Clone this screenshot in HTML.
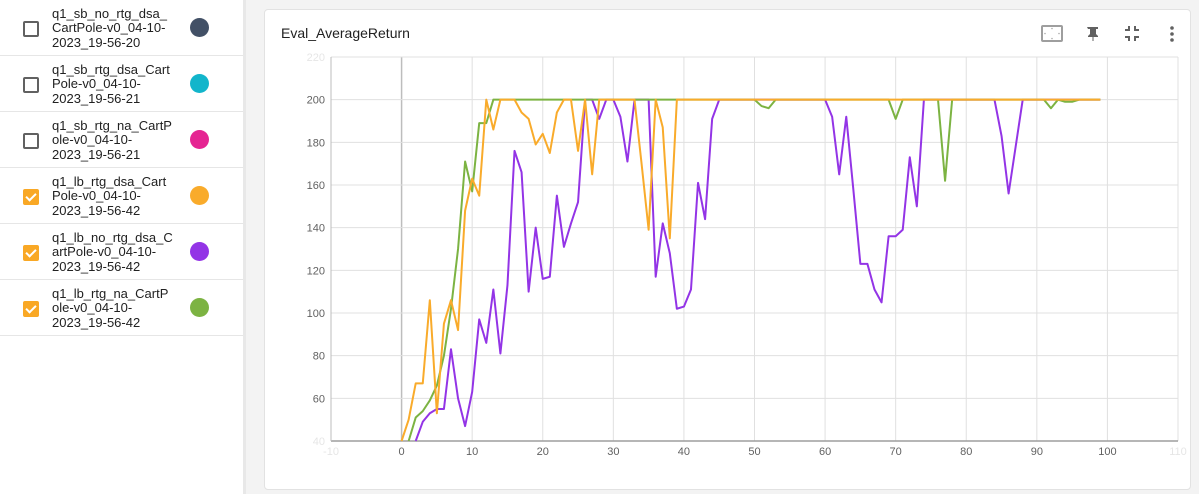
<!DOCTYPE html>
<html><head><meta charset="utf-8"><style>
body{margin:0;width:1199px;height:494px;background:#f3f3f3;font-family:"Liberation Sans",sans-serif;position:relative;overflow:hidden}
#side{position:absolute;left:0;top:0;width:243px;height:494px;background:#fff;border-right:3px solid #e8e8e8}
.row{position:absolute;left:0;width:243px;height:55px;border-bottom:1px solid #e6e6e6}
.cb{position:absolute;left:23px;top:21px;width:12px;height:12px;border:2px solid #616161;border-radius:2px}
.cb.on{background:#f9a825;border-color:#f9a825}
.cb.on::after{content:"";position:absolute;left:3px;top:0px;width:4px;height:8px;border:solid #fff;border-width:0 2px 2px 0;transform:rotate(45deg)}
.lbl{position:absolute;left:52px;top:7px;font-size:13px;line-height:14.3px;color:#212121;width:130px}
.dot{position:absolute;left:190px;top:18px;width:19px;height:19px;border-radius:50%}
#card{position:absolute;left:264px;top:9px;width:925px;height:479px;background:#fff;border:1px solid #e2e2e2;border-radius:4px}
#title{position:absolute;left:281px;top:25px;font-size:14px;color:#212121}
</style></head><body>
<div id="side">
 <div class="row" style="top:0"><div class="cb"></div><div class="lbl">q1_sb_no_rtg_dsa_<br>CartPole-v0_04-10-<br>2023_19-56-20</div><div class="dot" style="background:#425066"></div></div>
 <div class="row" style="top:56px"><div class="cb"></div><div class="lbl">q1_sb_rtg_dsa_Cart<br>Pole-v0_04-10-<br>2023_19-56-21</div><div class="dot" style="background:#12b5cb"></div></div>
 <div class="row" style="top:112px"><div class="cb"></div><div class="lbl">q1_sb_rtg_na_CartP<br>ole-v0_04-10-<br>2023_19-56-21</div><div class="dot" style="background:#e52592"></div></div>
 <div class="row" style="top:168px"><div class="cb on"></div><div class="lbl">q1_lb_rtg_dsa_Cart<br>Pole-v0_04-10-<br>2023_19-56-42</div><div class="dot" style="background:#f9ab2b"></div></div>
 <div class="row" style="top:224px"><div class="cb on"></div><div class="lbl">q1_lb_no_rtg_dsa_C<br>artPole-v0_04-10-<br>2023_19-56-42</div><div class="dot" style="background:#9334e6"></div></div>
 <div class="row" style="top:280px"><div class="cb on"></div><div class="lbl">q1_lb_rtg_na_CartP<br>ole-v0_04-10-<br>2023_19-56-42</div><div class="dot" style="background:#7cb342"></div></div>
</div>
<div id="card"></div>
<div id="title">Eval_AverageReturn</div>
<svg width="1199" height="494" style="position:absolute;left:0;top:0" id="svg">
 <g><rect x="1042" y="26" width="20" height="15" fill="none" stroke="#9e9e9e" stroke-width="2" rx="1"/><circle cx="1052" cy="28.5" r="0.8" fill="#aaa"/><circle cx="1052" cy="38.5" r="0.8" fill="#aaa"/><circle cx="1045" cy="33.5" r="0.8" fill="#aaa"/><circle cx="1059" cy="33.5" r="0.8" fill="#aaa"/></g>
 <g fill="#616161"><path d="M1087 27h11v2h-2v5l2 2v1h-4.5v4h-1v-4H1088v-1l2-2v-5h-2z"/></g>
 <g fill="none" stroke="#616161" stroke-width="2"><path d="M1125 30h4v-4M1135 26v4h4M1125 37h4v4M1139 37h-4v4"/></g>
 <g fill="#616161"><circle cx="1172" cy="28" r="1.8"/><circle cx="1172" cy="34" r="1.8"/><circle cx="1172" cy="40" r="1.8"/></g>
 <g id="chart"></g>
</svg>
<script>
const xTicks=[-10,0,10,20,30,40,50,60,70,80,90,100,110];
const yTicks=[40,60,80,100,120,140,160,180,200,220];
const orangeX=[0,1,2,3,4,5,6,7,8,9,10,11,12,13,14,15,16,17,18,19,20,21,22,23,24,25,26,27,28,29,30,31,32,33,34,35,36,37,38,39,99];
const orangeY=[40,50,67,67,106,53,95,106,92,148,163,155,200,186,200,200,200,194,191,179,184,175,194,200,200,176,200,165,200,200,200,200,200,200,170,139,200,187,135,200,200];
const greenX=[1,2,3,4,5,6,7,8,9,10,11,12,13,50,51,52,53,69,70,71,76,77,78,91,92,93,94,95,96,99];
const greenY=[40,51,54,59,66,80,102,130,171,157,189,189,200,200,197,196,200,200,191,200,200,162,200,200,196,200,199,199,200,200];
const purpleX=[2,3,4,5,6,7,8,9,10,11,12,13,14,15,16,17,18,19,20,21,22,23,24,25,26,27,28,29,30,31,32,33,34,35,36,37,38,39,40,41,42,43,44,45,60,61,62,63,64,65,66,67,68,69,70,71,72,73,74,84,85,86,87,88,99];
const purpleY=[40,49,53,55,55,83,60,47,63,97,86,111,81,113,176,166,110,140,116,117,155,131,142,152,200,200,191,200,200,192,171,200,200,200,117,142,128,102,103,111,161,144,191,200,200,192,165,192,158,123,123,111,105,136,136,139,173,150,200,200,183,156,178,200,200];
const L=331,R=1178,T=57,B=441;
const sx=v=>L+(v+10)/120*(R-L), sy=v=>B-(v-40)/180*(B-T);
const NS="http://www.w3.org/2000/svg", g=document.getElementById('chart');
function mk(t,a){const e=document.createElementNS(NS,t);for(const k in a)e.setAttribute(k,a[k]);g.appendChild(e);return e;}
xTicks.forEach((v,i)=>{const x=sx(v);
 const l=mk('line',{x1:x,x2:x,y1:T,y2:B,stroke:v===0?'#bdbdbd':'#e0e0e0','stroke-width':v===0?1.5:1});
 
 
 const t=mk('text',{x:x,y:B+14,'text-anchor':'middle','font-size':11,fill:(i===0||i===xTicks.length-1)?'#e6e6e6':'#616161'});
 t.textContent=v;
 
 });
yTicks.forEach((v,i)=>{const y=sy(v);
 const l=mk('line',{x1:L,x2:R,y1:y,y2:y,stroke:'#e0e0e0','stroke-width':1});
 
 
 const t=mk('text',{x:L-6,y:y+4,'text-anchor':'end','font-size':11,fill:(i===0||i===yTicks.length-1)?'#e6e6e6':'#616161'});
 t.textContent=v;
 
 });
const ax=mk('line',{x1:L,x2:R,y1:B,y2:B,stroke:'#9e9e9e','stroke-width':1.5});


const ay=mk('line',{x1:L,x2:L,y1:T,y2:B,stroke:'#bdbdbd','stroke-width':1});


function series(xs,ys,c,name){const p=mk('polyline',{points:xs.map((x,i)=>sx(x)+','+sy(ys[i])).join(' '),fill:'none',stroke:c,'stroke-width':2,'stroke-linejoin':'round'});
 
 }
series(purpleX,purpleY,'#9334e6','series-lb-no-rtg-dsa');
series(greenX,greenY,'#7cb342','series-lb-rtg-na');
series(orangeX,orangeY,'#f9ab2b','series-lb-rtg-dsa');
</script>
</body></html>
